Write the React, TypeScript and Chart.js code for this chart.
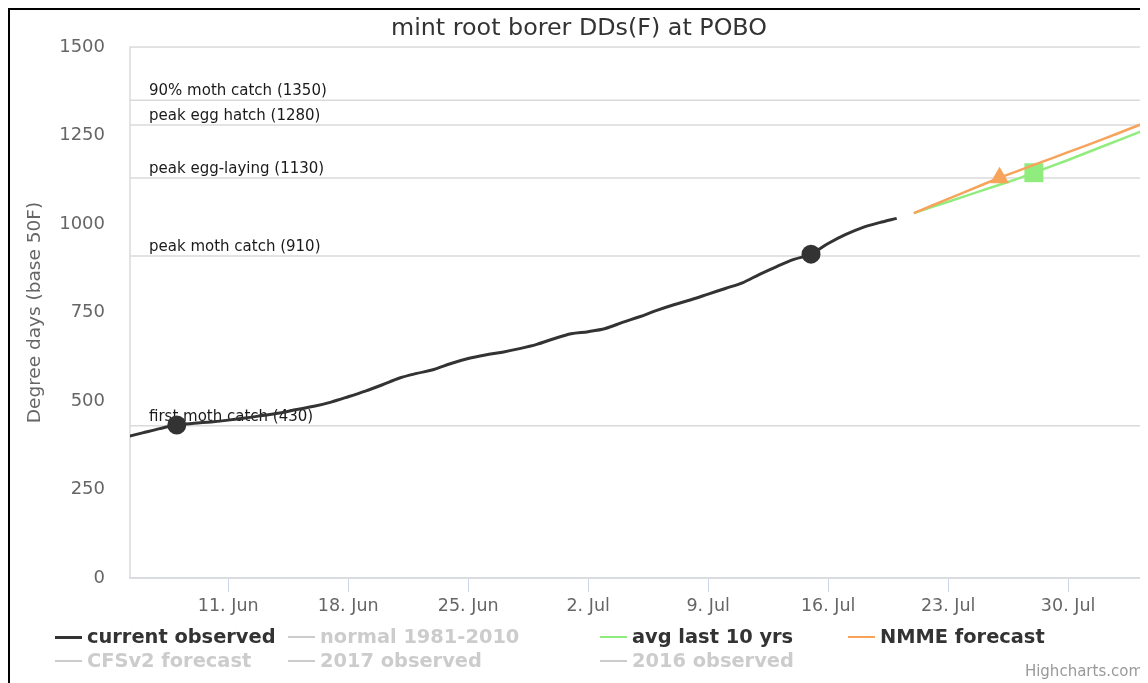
import React, { useEffect, useRef } from "react";
import { Chart, registerables } from "chart.js";

Chart.register(...registerables);

const chartTitle = "mint root borer DDs(F) at POBO";
const yAxisTitle = "Degree days (base 50F)";
const creditText = "Highcharts.com";

// x values are day numbers counted from 1 June (1 Jul = 31)
const xMin = 5.27;
const xMax = 64.66;
const tickDays = [11, 18, 25, 32, 39, 46, 53, 60];
const tickLabels = ["11. Jun", "18. Jun", "25. Jun", "2. Jul", "9. Jul", "16. Jul", "23. Jul", "30. Jul"];

const yMin = 0;
const yMax = 1500;
const yStep = 250;

const observedDays = [5, 6, 7, 8, 9, 10, 11, 12, 13, 14, 15, 16, 17, 18, 19, 20, 21, 22, 23, 24, 25, 26, 27, 28, 29, 30, 31, 32, 33, 34, 35, 36, 37, 38, 39, 40, 41, 42, 43, 44, 45, 46, 47, 48, 49, 50];
const observedValues = [398, 410, 422, 432, 437, 441, 446, 452, 459, 466, 476, 485, 497, 512, 528, 546, 565, 578, 589, 606, 620, 630, 638, 648, 660, 676, 690, 696, 705, 722, 738, 756, 772, 786, 802, 818, 834, 858, 880, 900, 915, 945, 970, 990, 1004, 1016];
const observedMarkerDays = [8, 45];

const forecastDays = [51, 52, 53, 54, 55, 56, 57, 58, 59, 60, 61, 62, 63, 64, 65];
const avg10Values = [1031, 1047, 1063, 1079, 1095, 1111, 1127, 1145, 1163, 1181, 1200, 1219, 1238, 1257, 1276];
const avg10MarkerDays = [58];
const nmmeValues = [1031, 1051, 1071, 1091, 1111, 1131, 1149, 1167, 1185, 1203, 1221, 1239, 1258, 1277, 1296];
const nmmeMarkerDays = [56];

const thresholdValues = [430, 910, 1130, 1280, 1350];
const thresholdLabels = ["first moth catch (430)", "peak moth catch (910)", "peak egg-laying (1130)", "peak egg hatch (1280)", "90% moth catch (1350)"];

const legendNames = ["current observed", "normal 1981-2010", "avg last 10 yrs", "NMME forecast", "CFSv2 forecast", "2017 observed", "2016 observed"];
const legendColors = ["#333333", "#cccccc", "#90ed7d", "#f7a35c", "#cccccc", "#cccccc", "#cccccc"];
const legendVisible = [true, false, true, true, false, false, false];

const FONT = "'DejaVu Sans', 'Lucida Grande', sans-serif";
const legendColumnLeft = [45, 278, 590, 838];

const toPoints = (days: number[], vals: number[]) => days.map((d, i) => ({ x: d, y: vals[i] }));

const plotLinesPlugin = {
  id: "plotLines",
  beforeDatasetsDraw(chart: any) {
    const { ctx, chartArea } = chart;
    const yScale = chart.scales.y;
    ctx.save();
    ctx.strokeStyle = "#dadada";
    ctx.lineWidth = 1.5;
    ctx.strokeRect(chartArea.left, chartArea.top, chartArea.right - chartArea.left, chartArea.bottom - chartArea.top);
    thresholdValues.forEach((v, i) => {
      const y = yScale.getPixelForValue(v);
      ctx.strokeStyle = "#dadada";
      ctx.lineWidth = 1.5;
      ctx.beginPath();
      ctx.moveTo(chartArea.left, y);
      ctx.lineTo(chartArea.right, y);
      ctx.stroke();
      ctx.fillStyle = "#1a1a1a";
      ctx.font = `15px ${FONT}`;
      ctx.textAlign = "left";
      ctx.textBaseline = "alphabetic";
      ctx.fillText(thresholdLabels[i], chartArea.left + 19, y - 5);
    });
    ctx.restore();
  },
};

export default function App() {
  const canvasRef = useRef<HTMLCanvasElement | null>(null);

  useEffect(() => {
    document.documentElement.style.overflow = "hidden";
    document.body.style.overflow = "hidden";
    const canvas = canvasRef.current;
    if (!canvas) return;
    const chart = new Chart(canvas, {
      type: "line",
      data: {
        datasets: [
          {
            label: legendNames[0],
            data: toPoints(observedDays, observedValues),
            borderColor: "#333333",
            backgroundColor: "#333333",
            borderWidth: 3,
            pointRadius: (c: any) => (observedMarkerDays.includes(c.raw?.x) ? 9.5 : 0),
            pointBorderWidth: 0,
            pointStyle: "circle",
            tension: 0.3,
            cubicInterpolationMode: "monotone",
          },
          {
            label: legendNames[3],
            data: toPoints(forecastDays, nmmeValues),
            borderColor: "#f7a35c",
            backgroundColor: "#f7a35c",
            borderWidth: 2.5,
            pointRadius: (c: any) => (nmmeMarkerDays.includes(c.raw?.x) ? 11 : 0),
            pointBorderWidth: 0,
            pointStyle: "triangle",
            tension: 0,
          },
          {
            label: legendNames[2],
            data: toPoints(forecastDays, avg10Values),
            borderColor: "#90ed7d",
            backgroundColor: "#90ed7d",
            borderWidth: 2.5,
            pointRadius: (c: any) => (avg10MarkerDays.includes(c.raw?.x) ? 13.4 : 0),
            pointBorderWidth: 0,
            pointStyle: "rect",
            tension: 0,
          },
        ],
      },
      options: {
        animation: false,
        responsive: false,
        layout: { padding: { left: 0, right: 14, top: 0, bottom: 59 } },
        plugins: {
          legend: { display: false },
          tooltip: { enabled: false },
          title: {
            display: true,
            text: chartTitle,
            color: "#333333",
            font: { family: FONT, size: 23.8, weight: "normal" },
            padding: { top: 4.5, bottom: 4 },
          },
        },
        scales: {
          x: {
            type: "linear",
            min: xMin,
            max: xMax,
            afterFit: (s: any) => {
              s.height = 46;
            },
            afterBuildTicks: (s: any) => {
              s.ticks = tickDays.map((v) => ({ value: v }));
            },
            ticks: {
              autoSkip: false,
              maxRotation: 0,
              color: "#666666",
              padding: 4,
              font: { family: FONT, size: 17.5 },
              callback: (v: any) => {
                const i = tickDays.indexOf(Number(v));
                return i >= 0 ? tickLabels[i] : "";
              },
            },
            grid: {
              display: true,
              drawOnChartArea: false,
              drawTicks: true,
              tickLength: 14,
              color: "#ccd6eb",
              lineWidth: 1,
            },
            border: { display: true, color: "#ccd6eb", width: 1.5 },
          },
          y: {
            type: "linear",
            min: yMin,
            max: yMax,
            afterFit: (s: any) => {
              s.width = 120;
            },
            afterBuildTicks: (s: any) => {
              const t = [];
              for (let v = yMin; v <= yMax; v += yStep) t.push({ value: v });
              s.ticks = t;
            },
            ticks: {
              color: "#666666",
              padding: 25,
              font: { family: FONT, size: 18 },
              callback: (v: any) => String(v),
            },
            grid: { display: false, drawTicks: false },
            border: { display: false },
            title: {
              display: true,
              text: yAxisTitle,
              color: "#666666",
              font: { family: FONT, size: 18.5 },
              padding: { top: 14, bottom: 0 },
            },
          },
        },
      },
      plugins: [plotLinesPlugin],
    } as any);
    return () => chart.destroy();
  }, []);

  return (
    <div
      style={{
        position: "relative",
        width: 1138,
        height: 673,
        overflow: "hidden",
        borderTop: "2px solid #000",
        borderLeft: "2px solid #000",
        background: "#fff",
      }}
    >
      <canvas ref={canvasRef} width={1152} height={673} style={{ display: "block" }} />
      {legendNames.map((name, i) => {
        const col = i % 4;
        const row = Math.floor(i / 4);
        return (
          <div
            key={name}
            style={{
              position: "absolute",
              left: legendColumnLeft[col],
              top: 614 + row * 24,
              height: 24,
              display: "flex",
              alignItems: "center",
              fontFamily: FONT,
              fontWeight: "bold",
              fontSize: 19.4,
              color: legendVisible[i] ? "#333333" : "#cccccc",
              whiteSpace: "nowrap",
            }}
          >
            <span
              style={{
                display: "inline-block",
                width: 27,
                height: i === 0 ? 3 : 2.5,
                background: legendColors[i],
                marginRight: 5,
                marginTop: 2,
              }}
            />
            {name}
          </div>
        );
      })}
      <div
        style={{
          position: "absolute",
          right: 5,
          top: 652,
          fontFamily: FONT,
          fontSize: 15,
          color: "#999999",
          whiteSpace: "nowrap",
        }}
      >
        {creditText}
      </div>
    </div>
  );
}
